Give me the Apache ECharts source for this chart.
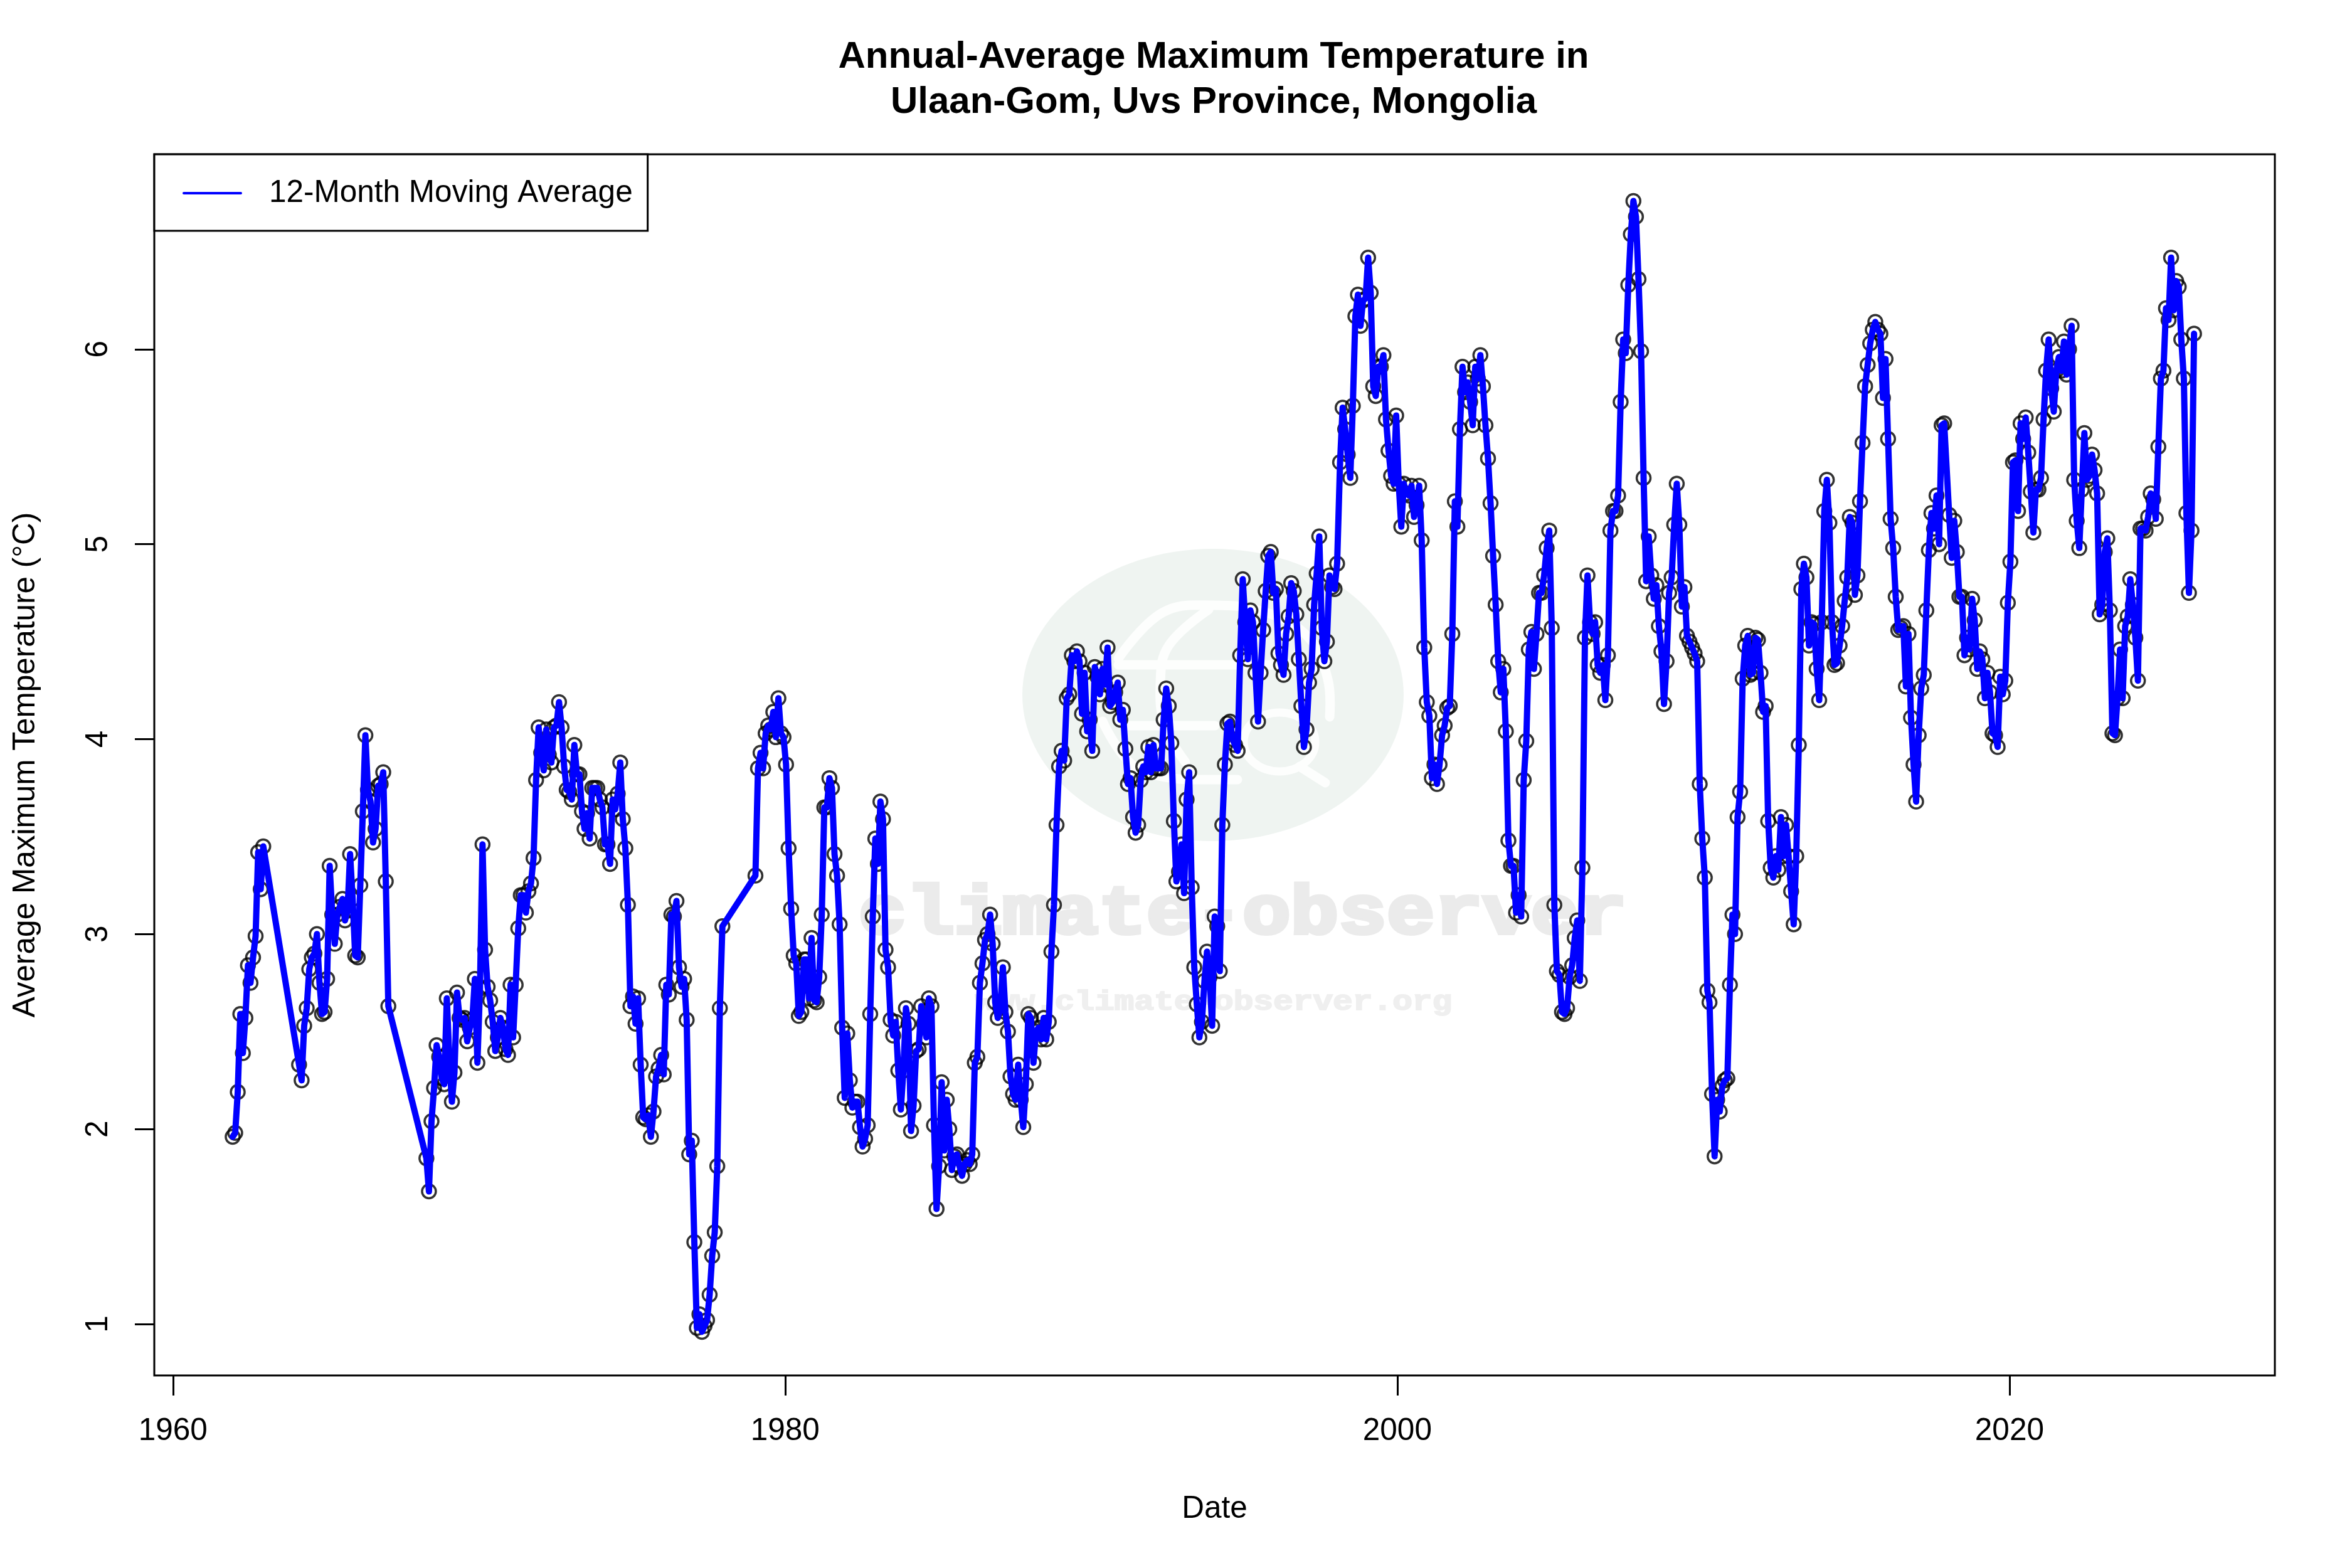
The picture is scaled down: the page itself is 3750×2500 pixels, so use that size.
<!DOCTYPE html>
<html><head><meta charset="utf-8">
<style>html,body{margin:0;padding:0;background:#fff}#c{width:3750px;height:2500px}</style>
<script src="https://cdn.jsdelivr.net/npm/echarts@6/dist/echarts.min.js"></script>
</head><body><div id="c"></div>
<script>
const titleText = "Annual-Average Maximum Temperature in\nUlaan-Gom, Uvs Province, Mongolia";
const xName = "Date";
const yName = "Average Maximum Temperature (\u00B0C)";
const seriesName = "12-Month Moving Average";
const xTicks = [1960, 1980, 2000, 2020];
const yTicks = [1, 2, 3, 4, 5, 6];
const runStarts = [1961.95, 1964.12, 1968.28, 1975.70, 1979.03, 1988.70, 1998.13, 2010.20, 2018.03];
const run1 = [1.96,1.98,2.19,2.59,2.39,2.57,2.84,2.75,2.88,2.99,3.42,3.23,3.45];
const run2 = [2.33,2.25,2.53,2.62,2.82,2.88,2.90,3.00,2.75,2.59,2.60,2.77,3.35,3.10,2.95,3.10,3.14,3.18,3.07,3.12,3.41,3.18,2.89,2.88,3.25,3.63,4.02,3.74,3.68,3.47,3.54,3.76,3.77,3.83,3.27,2.63];
const run3 = [1.85,1.68,2.04,2.21,2.43,2.37,2.26,2.23,2.67,2.36,2.14,2.29,2.70,2.57,2.56,2.57,2.45,2.52,2.56,2.77,2.34,2.72,3.46,2.92,2.73,2.66,2.55,2.40,2.47,2.57,2.52,2.41,2.38,2.74,2.47,2.74,3.03,3.20,3.20,3.11,3.22,3.26,3.39,3.79,4.06,3.93,3.84,4.05,3.92,3.88,4.06,4.07,4.19,4.06,3.86,3.74,3.73,3.69,3.97,3.82,3.82,3.63,3.54,3.62,3.49,3.75,3.75,3.75,3.69,3.65,3.46,3.46,3.36,3.69,3.64,3.72,3.88,3.59,3.44,3.15,2.63,2.68,2.54,2.67,2.33,2.06,2.05,2.07,1.96];
const run4 = [2.09,2.27,2.31,2.38,2.28,2.74,2.69,3.10,3.09,3.17,2.83,2.73,2.77,2.56,1.87,1.94,1.42,0.98,1.05,0.96,0.99,1.02,1.15,1.35,1.47,1.81,2.62,3.04];
const run5 = [3.30,3.85,3.93,3.85,4.03,4.07,4.05,4.14,4.01,4.21,4.03,4.01,3.87,3.44,3.13,2.89,2.85,2.58,2.60,2.87,2.87,2.67,2.98,2.66,2.65,2.78,3.10,3.65,3.65,3.80,3.75,3.41,3.30,3.05,2.52,2.16,2.49,2.25,2.11,2.14,2.14,2.01,1.91,1.95,2.02,2.59,3.09,3.49,3.36,3.68,3.59,2.92,2.83,2.56,2.48,2.55,2.30,2.10,2.30,2.62,2.54,1.99,2.12,2.40,2.41,2.63,2.54,2.47,2.67,2.63,2.02,1.59,1.81,2.24,1.89,2.15,2.00,1.79,1.86,1.87,1.81,1.76,1.82,1.84,1.82,1.87,2.34,2.37,2.75,2.85,2.97,3.00,3.10,2.95,2.65,2.57,2.62,2.83,2.60,2.50,2.27,2.18,2.15,2.33,2.15,2.01,2.23,2.59,2.57,2.34,2.50,2.52,2.46,2.57,2.46,2.55];
const run6 = [2.91,3.15,3.56,3.86,3.94,3.89,4.21,4.23,4.43,4.40,4.45,4.40,4.13,4.34,4.04,4.10,3.94,4.37,4.32,4.23,4.36,4.28,4.47,4.17,4.19,4.24,4.29,4.10,4.15,3.95,3.77,3.80,3.60,3.52,3.56,3.79,3.86,3.83,3.96,3.83,3.97,3.85,3.85,3.85,4.10,4.26,4.17,3.98,3.58,3.27,3.32,3.46,3.21,3.69,3.83,3.24,2.83,2.64,2.47,2.55,2.76,2.91,2.78,2.53,3.09,3.04,2.81,3.56,3.87,4.08,4.09,4.00,3.97,3.94,4.43,4.82,4.60,4.41,4.66,4.60,4.34,4.09,4.34,4.56,4.76,4.94,4.96,4.75,4.77,4.44,4.38,4.33,4.54,4.63,4.80,4.76,4.64,4.41,4.17,3.96,4.05,4.29,4.36,4.69,4.85,5.04,4.57,4.40,4.50,4.84,4.78,4.77,4.90];
const run7 = [5.42,5.70,5.59,5.46,5.34,5.71,6.17,6.28,6.12,6.25,6.26,6.47,6.29,5.81,5.76,5.91,5.91,5.97,5.64,5.48,5.35,5.31,5.66,5.31,5.09,5.31,5.26,5.25,5.30,5.14,5.20,5.30,5.02,4.47,4.19,4.12,3.80,3.87,3.77,3.87,4.02,4.07,4.16,4.17,4.54,5.22,5.09,5.59,5.91,5.78,5.83,5.73,5.61,5.91,5.85,5.97,5.81,5.61,5.44,5.21,4.94,4.69,4.40,4.24,4.36,4.04,3.48,3.35,3.35,3.11,3.20,3.09,3.79,3.99,4.46,4.55,4.36,4.54,4.75,4.75,4.84,4.98,5.07,4.57,3.15,2.81,2.79,2.60,2.59,2.62,2.78,2.84,2.98,3.07,2.76,3.34,4.52,4.84,4.60,4.54,4.60,4.38,4.34,4.38,4.20,4.43,5.07,5.17,5.17,5.25,5.73,6.05,5.98,6.33,6.59,6.76,6.68,6.36,5.99,5.34,4.81,5.04,4.84,4.72,4.79,4.58,4.45,4.18,4.40,4.75,4.83,5.10,5.31,5.10,4.68,4.78,4.53,4.50,4.47,4.44,4.40,3.77,3.49,3.29,2.71];
const run8 = [2.65,2.18,1.86,2.15,2.09,2.22,2.25,2.26,2.74,3.10,3.00,3.60,3.73,4.31,4.48,4.53,4.33,4.34,4.52,4.51,4.34,4.14,4.17,3.58,3.34,3.29,3.40,3.33,3.60,3.40,3.56,3.40,3.22,3.05,3.40,3.97,4.77,4.90,4.83,4.48,4.60,4.59,4.36,4.20,4.60,5.17,5.33,5.11,4.60,4.38,4.39,4.48,4.58,4.71,4.83,5.14,5.11,4.74,4.84,5.22,5.52,5.81,5.92,6.03,6.10,6.14,6.10,6.08,5.75,5.95,5.54,5.13,4.98,4.73,4.56,4.57,4.58,4.27,4.54,4.11,3.87,3.68,4.02,4.26,4.33,4.66,4.97,5.16,5.08,5.25,5.00,5.61,5.62];
const run9 = [5.15,4.93,5.12,4.96,4.73,4.73,4.43,4.52,4.46,4.72,4.61,4.36,4.45,4.41,4.21,4.34,4.24,4.03,4.02,3.96,4.32,4.23,4.30,4.70,4.91,5.42,5.43,5.17,5.62,5.54,5.65,5.47,5.27,5.06,5.28,5.28,5.34,5.64,5.89,6.05,5.80,5.68,5.89,5.96,5.89,6.04,5.87,6.00,6.12,5.33,5.12,4.98,5.28,5.57,5.33,5.35,5.46,5.38,5.26,4.64,4.69,4.96,5.03,4.66,4.03,4.02,4.21,4.46,4.21,4.58,4.63,4.82,4.69,4.52,4.30,5.08,5.08,5.07,5.14,5.26,5.23,5.13,5.50,5.85,5.89,6.21,6.15,6.47,6.20,6.35,6.32,6.05,5.85,5.16,4.75,5.07,6.08];
const runs = [run1, run2, run3, run4, run5, run6, run7, run8, run9];

const points = [];
runs.forEach((vals, r) => vals.forEach((v, i) => points.push([runStarts[r] + i / 12, v])));

const FONT = '"Liberation Sans", Arial, sans-serif';
const FS = 49.5;
const whiteStroke = w => ({fill: 'none', stroke: '#fdfefd', lineWidth: w, lineCap: 'round', lineJoin: 'round'});
const chart = echarts.init(document.getElementById('c'), null, {renderer: 'canvas', width: 3750, height: 2500});
chart.setOption({
  animation: false,
  backgroundColor: '#fff',
  title: {
    text: titleText, left: 1930, top: 50, textAlign: 'center',
    textStyle: {fontFamily: FONT, fontWeight: 'bold', fontSize: 60, lineHeight: 72, color: '#000'}
  },
  grid: {left: 246, top: 246, width: 3381, height: 1947, show: true, borderColor: '#000', borderWidth: 3, backgroundColor: 'transparent', containLabel: false, outerBoundsMode: 'none'},
  legend: {
    show: true, left: 246, top: 246, orient: 'horizontal', data: [seriesName],
    backgroundColor: '#fff', borderColor: '#000', borderWidth: 3, borderRadius: 0,
    padding: [37, 24, 35, 45], itemWidth: 91, itemHeight: 4, itemGap: 0,
    lineStyle: {width: 4, color: '#0000ff'},
    textStyle: {fontFamily: FONT, fontSize: FS, color: '#000', padding: [0, 0, 0, 40]}
  },
  xAxis: {
    type: 'value', min: 1959.39, max: 2028.67, name: xName, nameLocation: 'middle', nameGap: 188,
    nameTextStyle: {fontFamily: FONT, fontSize: FS, color: '#000'},
    splitLine: {show: false}, axisLine: {show: false},
    axisTick: {show: true, length: 32, customValues: xTicks, lineStyle: {color: '#000', width: 3}},
    axisLabel: {show: true, margin: 64, customValues: xTicks, fontFamily: FONT, fontSize: FS, color: '#000', formatter: v => String(v)}
  },
  yAxis: {
    type: 'value', min: 0.736, max: 7.0, name: yName, nameLocation: 'middle', nameGap: 180, nameRotate: 90,
    nameTextStyle: {fontFamily: FONT, fontSize: FS, color: '#000'},
    splitLine: {show: false}, axisLine: {show: false},
    axisTick: {show: true, length: 31, customValues: yTicks, lineStyle: {color: '#000', width: 3}},
    axisLabel: {show: true, margin: 64, rotate: 90, customValues: yTicks, fontFamily: FONT, fontSize: FS, color: '#000', formatter: v => String(v)}
  },
  series: [
    {name: 'Point interiors', type: 'scatter', data: points, symbol: 'circle', symbolSize: 21, z: 2, silent: true,
     itemStyle: {color: '#fff', borderWidth: 0}},
    {name: 'Monthly points', type: 'scatter', data: points, symbol: 'circle', symbolSize: 22, z: 3, silent: true,
     itemStyle: {color: 'transparent', borderColor: '#000', borderWidth: 3.5}},
    {name: seriesName, type: 'line', data: points, showSymbol: false, symbol: 'none', z: 4, silent: true, smooth: false,
     lineStyle: {color: '#0000ff', width: 10, join: 'round', cap: 'round'}, itemStyle: {color: '#0000ff'}}
  ],
  graphic: [
    {type: 'ellipse', z: 0, silent: true, shape: {cx: 1934, cy: 1108, rx: 304, ry: 233}, style: {fill: '#eff4f1'}},
    {type: 'polyline', z: 1, silent: true, shape: {smooth: 0.4, points: [[1783,1050],[1853,977],[1933,965],[2020,977],[2087,1017],[2117,1083],[2120,1143]]}, style: whiteStroke(15)},
    {type: 'line', z: 1, silent: true, shape: {x1: 1783, y1: 1060, x2: 2100, y2: 1060}, style: whiteStroke(15)},
    {type: 'line', z: 1, silent: true, shape: {x1: 1800, y1: 1157, x2: 1937, y2: 1157}, style: whiteStroke(15)},
    {type: 'line', z: 1, silent: true, shape: {x1: 1893, y1: 1243, x2: 1973, y2: 1243}, style: whiteStroke(15)},
    {type: 'polyline', z: 1, silent: true, shape: {smooth: 0.4, points: [[1927,972],[1863,1030],[1850,1090],[1858,1160],[1890,1215]]}, style: whiteStroke(15)},
    {type: 'polyline', z: 1, silent: true, shape: {smooth: 0.4, points: [[1758,1150],[1810,1223],[1895,1243]]}, style: whiteStroke(15)},
    {type: 'ellipse', z: 1, silent: true, shape: {cx: 2040, cy: 1183, rx: 57, ry: 47}, style: whiteStroke(13)},
    {type: 'line', z: 1, silent: true, shape: {x1: 2072, y1: 1222, x2: 2113, y2: 1248}, style: whiteStroke(15)},
    {type: 'text', z: 1, silent: true, x: 1981, y: 1460, scaleX: 1.16, style: {text: 'climate-observer', align: 'center', verticalAlign: 'middle', fill: '#ebebeb', stroke: '#ebebeb', lineWidth: 6, font: 'bold 110px "Liberation Mono"'}},
    {type: 'text', z: 1, silent: true, x: 1935, y: 1599, scaleX: 1.2, style: {text: 'www.climate-observer.org', align: 'center', verticalAlign: 'middle', fill: '#efefef', stroke: '#efefef', lineWidth: 2, font: 'bold 44px "Liberation Mono"'}}
  ]
});
</script></body></html>
